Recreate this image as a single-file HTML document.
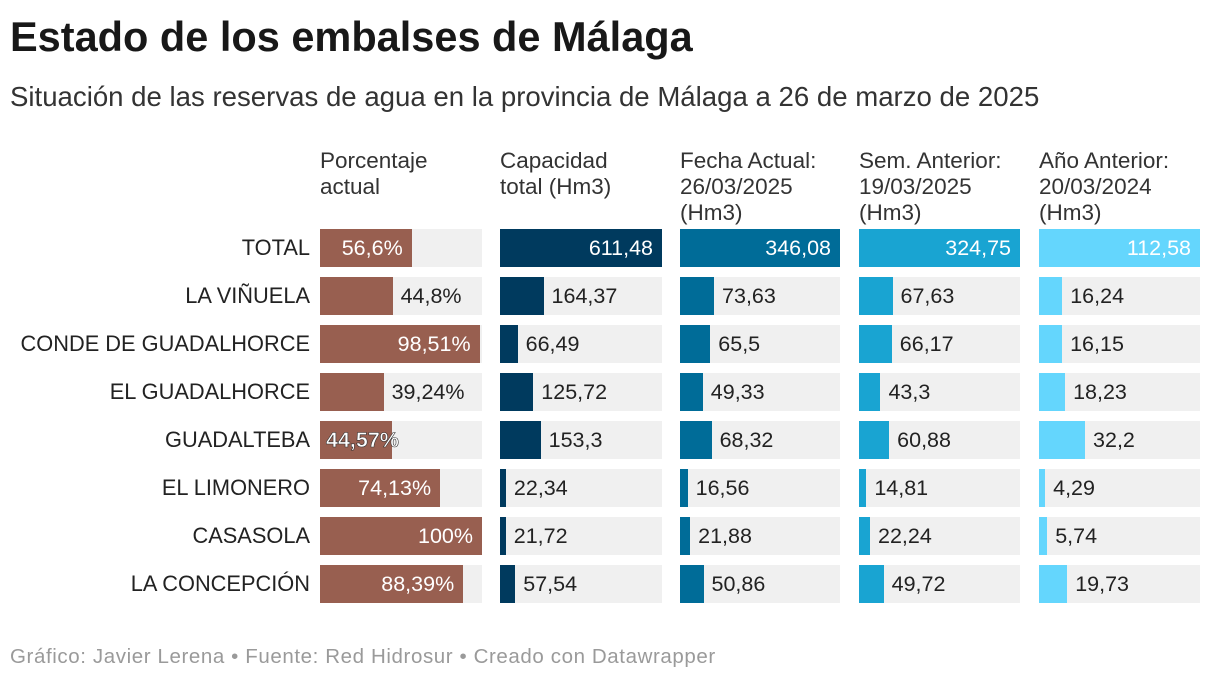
<!DOCTYPE html>
<html><head><meta charset="utf-8">
<style>
body{margin:0;width:1220px;height:680px;background:#fff;font-family:"Liberation Sans",sans-serif;color:#222;position:relative;overflow:hidden}
.t{position:absolute;white-space:nowrap}
#title{left:10px;top:13px;font-size:41.5px;font-weight:bold;color:#181818}
#sub{left:10px;top:81px;font-size:27.6px;color:#333}
.hd{position:absolute;top:148px;font-size:22.5px;line-height:26px;color:#333}
#foot{left:10px;top:645px;font-size:20.5px;color:#9a9a9a;letter-spacing:0.6px}
.bg{position:absolute;background:#f0f0f0}
.bar{position:absolute}
.lbl{position:absolute;font-size:21.5px;line-height:38px;white-space:nowrap}
.rl{position:absolute;font-size:21.8px;line-height:38px;right:910px;text-align:right;color:#222;white-space:nowrap}
</style></head><body>
<div class="t" id="title">Estado de los embalses de Málaga</div>
<div class="t" id="sub">Situación de las reservas de agua en la provincia de Málaga a 26 de marzo de 2025</div>
<div class="hd" style="left:320px">Porcentaje<br>actual</div>
<div class="hd" style="left:500px">Capacidad<br>total (Hm3)</div>
<div class="hd" style="left:680px">Fecha Actual:<br>26/03/2025<br>(Hm3)</div>
<div class="hd" style="left:859px">Sem. Anterior:<br>19/03/2025<br>(Hm3)</div>
<div class="hd" style="left:1039px">Año Anterior:<br>20/03/2024<br>(Hm3)</div>
<div id="rows"></div>
<div class="t" id="foot">Gráfico: Javier Lerena • Fuente: Red Hidrosur • Creado con Datawrapper</div>
<script>
const names=["TOTAL","LA VIÑUELA","CONDE DE GUADALHORCE","EL GUADALHORCE","GUADALTEBA","EL LIMONERO","CASASOLA","LA CONCEPCIÓN"];
const pct=[56.6,44.8,98.51,39.24,44.57,74.13,100,88.39];
const pctLabels=["56,6%","44,8%","98,51%","39,24%","44,57%","74,13%","100%","88,39%"];
const capacidad=[611.48,164.37,66.49,125.72,153.3,22.34,21.72,57.54];
const actual=[346.08,73.63,65.5,49.33,68.32,16.56,21.88,50.86];
const semana=[324.75,67.63,66.17,43.3,60.88,14.81,22.24,49.72];
const anio=[112.58,16.24,16.15,18.23,32.2,4.29,5.74,19.73];
function fmt(v){return String(v).replace('.',',');}
const cols=[
 {key:"porcentaje",vals:pct,labels:pctLabels,max:100,x:320,w:162,color:"#985f50"},
 {key:"capacidad",vals:capacidad,max:Math.max(...capacidad),x:500,w:162,color:"#003a5e"},
 {key:"actual",vals:actual,max:Math.max(...actual),x:680,w:160,color:"#006c98"},
 {key:"semana",vals:semana,max:Math.max(...semana),x:859,w:161,color:"#19a4d2"},
 {key:"anio",vals:anio,max:Math.max(...anio),x:1039,w:161,color:"#64d6fd"}
];
const root=document.getElementById('rows');
const rowY=i=>229+i*48, H=38;
names.forEach((n,i)=>{
 const r=document.createElement('div');r.className='rl';r.style.top=rowY(i)+'px';r.textContent=n;
 
 
 root.appendChild(r);
 cols.forEach(c=>{
  const bg=document.createElement('div');bg.className='bg';
  bg.style.cssText=`left:${c.x}px;top:${rowY(i)}px;width:${c.w}px;height:${H}px`;
  
  
  root.appendChild(bg);
  const v=c.vals[i];const bw=Math.max(4,v/c.max*c.w);
  const b=document.createElement('div');b.className='bar';
  b.style.cssText=`left:${c.x}px;top:${rowY(i)}px;width:${bw}px;height:${H}px;background:${c.color}`;
  
  
  root.appendChild(b);
  const l=document.createElement('div');l.className='lbl';
  l.textContent=c.labels?c.labels[i]:fmt(v);
  
  
  const inside=bw>85;
  if(c.key==="porcentaje"&&i===4){
   l.style.cssText+=`left:${c.x+6}px;top:${rowY(i)}px;color:#fff;-webkit-text-stroke:0.6px #333;font-weight:bold`;
  } else if(inside){
   l.style.cssText+=`left:${c.x}px;width:${bw-9}px;text-align:right;top:${rowY(i)}px;color:#fff`;
  } else {
   l.style.cssText+=`left:${c.x+bw+8}px;top:${rowY(i)}px;color:#222`;
  }
  root.appendChild(l);
 });
});
</script>
</body></html>
